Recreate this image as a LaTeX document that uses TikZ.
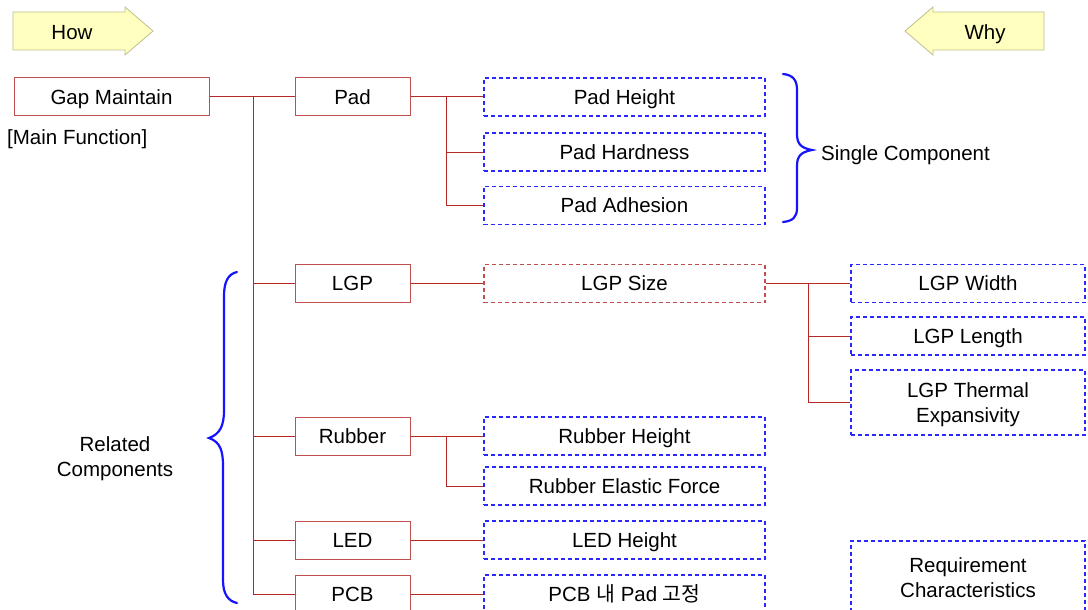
\documentclass[tikz,border=0pt]{standalone}
\usepackage{fontspec}
\setmainfont{Liberation Sans}
\newfontfamily\krfont{Noto Sans CJK KR}
\definecolor{boxred}{RGB}{192,80,77}
\definecolor{linered}{RGB}{180,40,40}
\definecolor{dashblue}{RGB}{40,40,255}
\definecolor{brblue}{RGB}{20,20,255}
\definecolor{arrfill}{RGB}{255,255,192}
\definecolor{arrdraw}{RGB}{190,190,140}
\tikzset{
  base/.style={font=\fontsize{20.5}{25}\selectfont, inner sep=0pt, align=center},
  one/.style={text height=14.5pt, text depth=0pt},
  redbox/.style={base, one, draw=boxred, line width=1pt, minimum width=115pt, minimum height=38pt},
  bluebox/.style={base, one, draw=dashblue, line width=1.2pt, dash pattern=on 4pt off 3pt, minimum width=281pt, minimum height=38pt},
  reddash/.style={base, one, draw=boxred, line width=1.2pt, dash pattern=on 4pt off 3pt, minimum width=281pt, minimum height=38pt},
  rbox/.style={base, draw=dashblue, line width=1.2pt, dash pattern=on 4pt off 3pt, minimum width=234pt, minimum height=38pt},
  conn/.style={draw=linered, line width=1pt},
  brace/.style={draw=brblue, line width=2.2pt, line cap=round},
  bigarrow/.style={fill=arrfill, draw=arrdraw, line width=0.8pt},
  lbl/.style={base}
}
\begin{document}
\begin{tikzpicture}[x=1pt,y=-1pt]
\useasboundingbox (0,0) rectangle (1088,610);
\clip (0,0) rectangle (1088,610);
% How / Why arrows
\draw[bigarrow] (13,12) -- (125,12) -- (125,7) -- (153,31) -- (125,55) -- (125,50) -- (13,50) -- cycle;
\node[lbl, one] (how) at (72,32) {How};
\draw[bigarrow] (1044,12) -- (933,12) -- (933,7) -- (905,31) -- (933,55) -- (933,50) -- (1044,50) -- cycle;
\node[lbl, one] (why) at (985,32) {Why};
% main function
\node[redbox, minimum width=195pt] (gap) at (111.5,97) {Gap Maintain};
\node[lbl, one, anchor=west] (mainf) at (7,137) {[Main Function]};
% components
\node[redbox] (pad) at (352.5,97) {Pad};
\node[redbox] (lgp) at (352.5,283.5) {LGP};
\node[redbox] (rubber) at (352.5,436.5) {Rubber};
\node[redbox] (led) at (352.5,540) {LED};
\node[redbox] (pcb) at (352.5,594) {PCB};
% characteristics
\node[bluebox] (padh) at (624.5,97) {Pad Height};
\node[bluebox] (padhd) at (624.5,152) {Pad Hardness};
\node[bluebox] (pada) at (624.5,205.5) {Pad Adhesion};
\node[reddash] (lgps) at (624.5,283.5) {LGP Size};
\node[bluebox] (rubh) at (624.5,436) {Rubber Height};
\node[bluebox] (rube) at (624.5,486) {Rubber Elastic Force};
\node[bluebox] (ledh) at (624.5,540) {LED Height};
\node[bluebox] (pcbp) at (624.5,594) {PCB {\krfont 내} Pad {\krfont 고정}};
\node[rbox, one] (lgpw) at (968,283.5) {LGP Width};
\node[rbox, one] (lgpl) at (968,336) {LGP Length};
\node[rbox, minimum height=65pt, text depth=0pt] (lgpt) at (968,402.5) {LGP Thermal\\Expansivity};
\node[rbox, minimum height=74pt, text depth=0pt] (req) at (968,578) {Requirement\\Characteristics};
% connectors
\coordinate (trunk) at (253,0);
\coordinate (padj) at (446,0);
\coordinate (lgpj) at (808,0);
\draw[conn] (gap.east) -- (pad.west);
\draw[conn] (trunk |- gap.east) -- (trunk |- pcb.west);
\draw[conn] (trunk |- lgp.west) -- (lgp.west);
\draw[conn] (trunk |- rubber.west) -- (rubber.west);
\draw[conn] (trunk |- led.west) -- (led.west);
\draw[conn] (trunk |- pcb.west) -- (pcb.west);
\draw[conn] (pad.east) -- (padh.west);
\draw[conn] (padj |- pad.east) -- (padj |- pada.west) -- (pada.west);
\draw[conn] (padj |- padhd.west) -- (padhd.west);
\draw[conn] (lgp.east) -- (lgps.west);
\draw[conn] (lgps.east) -- (lgpw.west);
\draw[conn] (lgpj |- lgps.east) -- (lgpj |- lgpt.west) -- (lgpt.west);
\draw[conn] (lgpj |- lgpl.west) -- (lgpl.west);
\draw[conn] (rubber.east) -- (rubber.east -| rubh.west);
\draw[conn] (padj |- rubber.east) -- (padj |- rube.west) -- (rube.west);
\draw[conn] (led.east) -- (ledh.west);
\draw[conn] (pcb.east) -- (pcbp.west);
% braces
\draw[brace] (783,74) .. controls (793,75) and (797,80) .. (797,90) -- (797,134)
  .. controls (797,144) and (801,148) .. (812,150)
  .. controls (801,152) and (797,156) .. (797,166) -- (797,208)
  .. controls (797,217) and (793,221) .. (783,222);
\node[lbl, one, anchor=west] (single) at (821,153) {Single Component};
\draw[brace] (237,272) .. controls (228,274) and (224,282) .. (224,296) -- (224,410)
  .. controls (224,426) and (220,434) .. (209,438)
  .. controls (220,442) and (223,450) .. (223,466) -- (223,580)
  .. controls (223,594) and (228,601) .. (237,603);
\node[lbl, text depth=0pt] (related) at (115,457) {Related\\Components};
\end{tikzpicture}
\end{document}
